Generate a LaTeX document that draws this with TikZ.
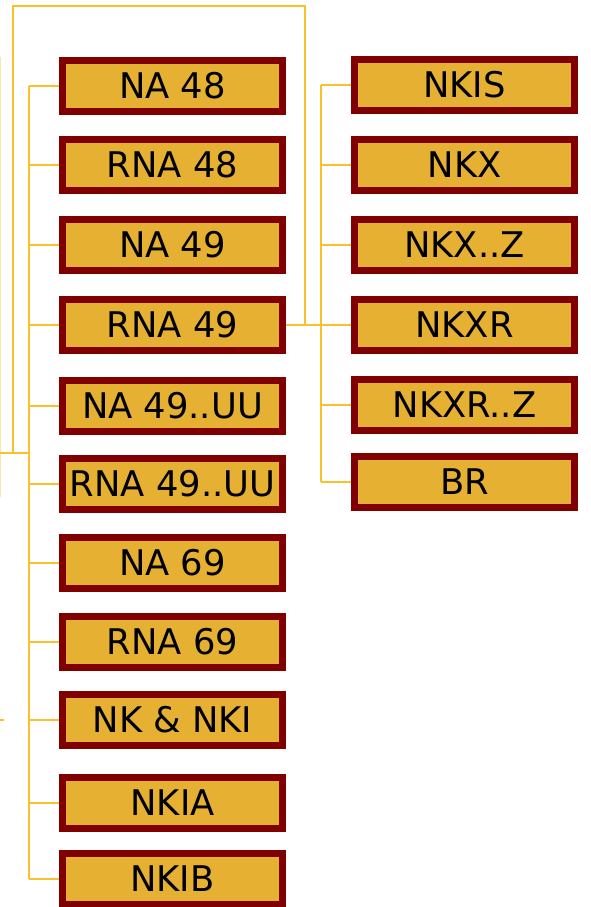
\documentclass[tikz,border=0pt]{standalone}
\usepackage{fontspec}
\setmainfont{DejaVu Sans}
\definecolor{boxfill}{RGB}{230,176,51}
\definecolor{boxline}{RGB}{128,0,0}
\definecolor{wire}{RGB}{252,192,45}
\begin{document}
\begin{tikzpicture}[x=0.75pt,y=-0.75pt,
    item/.style={draw=boxline,fill=boxfill,line width=5.25pt,minimum width=165pt,
      minimum height=38.25pt,inner sep=0pt,font=\fontsize{26.5}{30}\selectfont},
    wire/.style={draw=wire,line width=1.6pt}]
     \useasboundingbox (0,0) rectangle (590,907);
     % left column
     \node[item] (NA48)   at (172.5,86)  {NA 48};
     \node[item] (RNA48)  at (172.5,165) {RNA 48};
     \node[item] (NA49)   at (172.5,245) {NA 49};
     \node[item] (RNA49)  at (172.5,325) {RNA 49};
     \node[item] (NA49U)  at (172.5,406) {NA 49..UU};
     \node[item] (RNA49U) at (172.5,484) {RNA 49..UU};
     \node[item] (NA69)   at (172.5,563) {NA 69};
     \node[item] (RNA69)  at (172.5,642) {RNA 69};
     \node[item] (NKNKI)  at (172.5,720) {NK \& NKI};
     \node[item] (NKIA)   at (172.5,803) {NKIA};
     \node[item] (NKIB)   at (172.5,879) {NKIB};
     % right column
     \node[item] (NKIS)   at (464.5,85)  {NKIS};
     \node[item] (NKX)    at (464.5,165) {NKX};
     \node[item] (NKXZ)   at (464.5,245) {NKX..Z};
     \node[item] (NKXR)   at (464.5,325) {NKXR};
     \node[item] (NKXRZ)  at (464.5,405) {NKXR..Z};
     \node[item] (BR)     at (464.5,482) {BR};
     % buses
     \coordinate (LB) at (29,0);
     \coordinate (RB) at (321,0);
     \coordinate (TL) at (13,6);
     \coordinate (TR) at (305,6);
     \coordinate (IN) at (0,453);
     \draw [wire] (NA48.west -| LB) -- (NKIB.west -| LB);
     \foreach \n in {NA48,RNA48,NA49,RNA49,NA49U,RNA49U,NA69,RNA69,NKNKI,NKIA,NKIB}
       \draw [wire] (\n.west -| LB) -- (\n.west);
     \draw [wire] (NKIS.west -| RB) -- (BR.west -| RB);
     \foreach \n in {NKIS,NKX,NKXZ,NKXRZ,BR}
       \draw [wire] (\n.west -| RB) -- (\n.west);
     \draw [wire] (RNA49.east) -- (NKXR.west);
     \draw [wire] (IN) -- (IN -| LB);
     \draw [wire] (IN -| TL) -- (TL) -- (TR) -- (TR |- RNA49.east);
     % cut-off lines at the left edge
     \draw [wire,opacity=.4,line width=1pt] (0.5,57) -- (0.5,497);
     \draw [wire] (0,720) -- (4,720);
\end{tikzpicture}
\end{document}
